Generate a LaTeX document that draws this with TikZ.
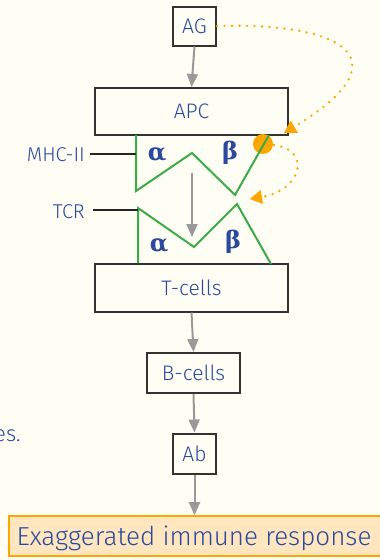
\documentclass[tikz,border=0pt]{standalone}
\usepackage{fontspec}
\setmainfont{Fira Sans Light}
\newfontfamily\greekfont{DejaVu Serif}
\usetikzlibrary{arrows.meta}
\definecolor{bg}{HTML}{FFFEF4}
\definecolor{ink}{HTML}{2B4A9E}
\definecolor{grn}{HTML}{3DAA48}
\definecolor{org}{HTML}{FFA500}
\definecolor{peach}{HTML}{FFE6BF}
\definecolor{arr}{HTML}{999999}
\tikzset{
  box/.style={draw=black!80, line width=2pt, text=ink, font=\fontsize{21}{24}\selectfont, inner sep=0pt},
  flow/.style={draw=arr, line width=2pt, -{Triangle[length=13pt,width=11pt]}},
  chain/.style={draw=grn, line width=2pt},
  lead/.style={draw=black!85, line width=2pt},
  lbl/.style={text=ink, font=\fontsize{20}{22}\selectfont},
  grk/.style={text=ink, font=\greekfont\bfseries\fontsize{24}{26}\selectfont},
  dots/.style={draw=org, line width=2.6pt, line cap=round, dash pattern=on 0pt off 7.5pt, -{Triangle[length=12pt,width=14pt,line width=0.1pt]}}
}
\begin{document}
\begin{tikzpicture}[x=1pt,y=-1pt]
\fill[bg] (0,0) rectangle (380,560);
\useasboundingbox (0,0) rectangle (380,560);
% boxes
\node[box, minimum width=43pt, minimum height=39pt] (ag) at (194.5,26) {AG};
\node[box, minimum width=193pt, minimum height=47pt] (apc) at (191.5,111.5) {APC};
\node[box, minimum width=193pt, minimum height=48pt] (tc) at (191.5,287.5) {T-cells};
\node[box, minimum width=93pt, minimum height=40pt] (bc) at (193.5,373) {B-cells};
\node[box, minimum width=43pt, minimum height=40pt] (ab) at (194.5,453.5) {Ab};
\node[draw=org, fill=peach, line width=1.6pt, minimum width=390pt, minimum height=40pt, anchor=west, inner sep=0pt] (ex) at (8,536) {};
\node[text=ink, font=\fontsize{26}{28}\selectfont] (ext) at (194,538) {Exaggerated immune response};
% main flow
\draw[flow] (ag.south) -- (apc.north);
\draw[flow] (tc.south) -- (bc.north);
\draw[flow] (bc.south) -- (ab.north);
\draw[flow] (ab.south) -- (ex.north -| ab.south);
% orange circle
\fill[org] (263,144) circle (10pt);
% MHC-II
\coordinate (m0) at (136,135);
\coordinate (m1) at (136,191);
\coordinate (m2) at (192,153);
\coordinate (m3) at (235,195);
\coordinate (m4) at (269,135);
\draw[chain, line join=miter] (m0) -- (m1) -- (m2) -- (m3) -- (m4);
% TCR
\coordinate (t0) at (138,263);
\coordinate (t1) at (138,208);
\coordinate (t2) at (194,247);
\coordinate (t3) at (237,204);
\coordinate (t4) at (271,264);
\draw[chain, line join=miter] (t0) -- (t1) -- (t2) -- (t3) -- (t4);
% gray arrow between receptors
\coordinate (g0) at (192,173);
\coordinate (g1) at (192,237);
\draw[flow] (g0) -- (g1);
% greek labels
\node[grk] (a1) at (157,155) {α};
\node[grk] (b1) at (230,153) {β};
\node[grk] (a2) at (159,246) {α};
\node[grk] (b2) at (233,242) {β};
% side labels
\node[lbl, anchor=east, inner sep=0pt] (mhc) at (85,155) {MHC-II};
\draw[lead] (90,154) -- (m0 |- 0,154);
\node[lbl, anchor=east, inner sep=0pt] (tcr) at (85,212) {TCR};
\draw[lead] (93,210) -- (t1 |- 0,210);
% cut text
\node[lbl, anchor=east, font=\fontsize{22}{24}\selectfont, inner sep=0pt] (es) at (21,436) {es.};
% dotted orange arrows
\coordinate (d1) at (284,133);
\draw[dots] (ag.east) .. controls (345,22) and (405,60) .. (d1);
\coordinate (d2a) at (274,145);
\coordinate (d2) at (250,199);
\draw[dots] (d2a) .. controls (312,150) and (302,190) .. (d2);
\end{tikzpicture}
\end{document}
